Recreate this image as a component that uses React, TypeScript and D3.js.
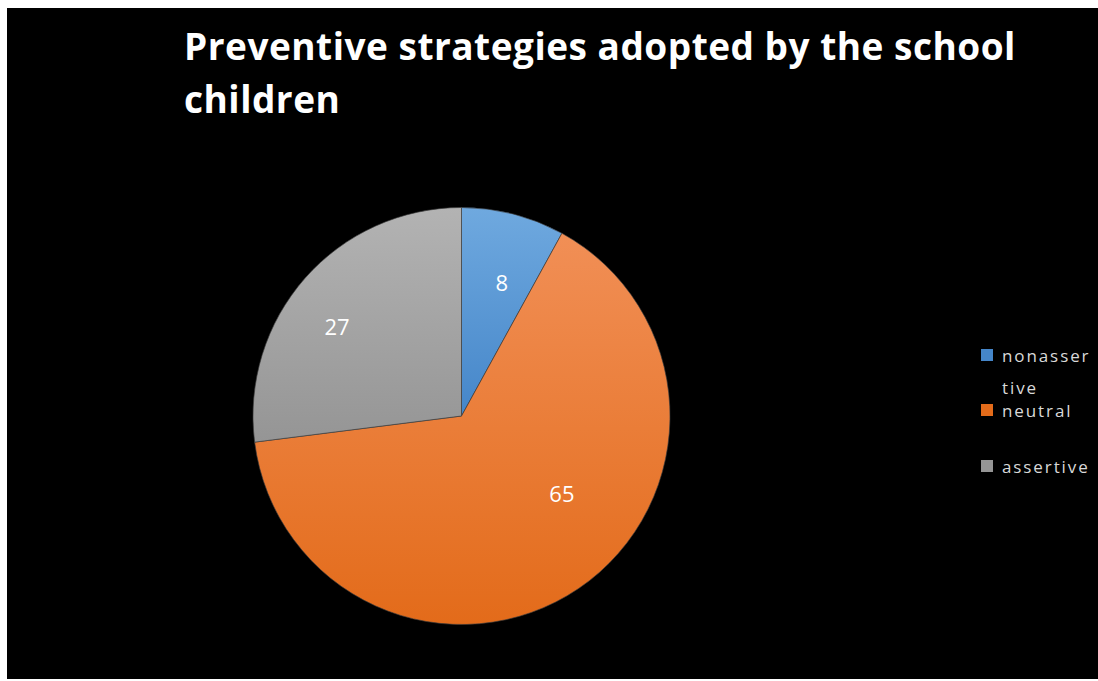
import React, { useEffect, useRef } from "react";
import * as d3 from "d3";

const categories = ["nonassertive", "neutral", "assertive"];
const legendLines = [["nonasser", "tive"], ["neutral"], ["assertive"]];
const values = [8, 65, 27];
const titleLines = ["Preventive strategies adopted by the school", "children"];

const W = 1098;
const H = 681;
const cx = 461.5;
const cy = 416;
const R = 208.5;
const gradStops = [
  ["#6fa9df", "#4586c9"],
  ["#f18f56", "#e36b1a"],
  ["#b3b3b3", "#959595"],
];
// layout: label placement (angle shift in degrees, radius fraction), mimicking Excel best fit
const labelAngleShift = [2.4, -18.3, -5.5];
const labelRadiusFrac = [0.67, 0.607, 0.737];

export default function App() {
  const ref = useRef<SVGSVGElement>(null);
  useEffect(() => {
    const svg = d3.select(ref.current);
    svg.selectAll("*").remove();
    svg.append("rect").attr("x", 0).attr("y", 0).attr("width", W).attr("height", H).attr("fill", "#fff");
    svg.append("rect").attr("x", 7).attr("y", 8).attr("width", W - 7).attr("height", 671).attr("fill", "#000");

    const defs = svg.append("defs");
    gradStops.forEach((s, i) => {
      const g = defs.append("linearGradient").attr("id", "g" + i).attr("x1", 0).attr("y1", 0).attr("x2", 0).attr("y2", 1);
      g.append("stop").attr("offset", "0%").attr("stop-color", s[0]);
      g.append("stop").attr("offset", "100%").attr("stop-color", s[1]);
    });

    // title
    const title = svg.append("text")
      .attr("font-family", "'Open Sans', sans-serif")
      .attr("font-weight", 700)
      .attr("font-size", 37)
      .attr("letter-spacing", 0.5)
      .attr("fill", "#fff");
    titleLines.forEach((t, i) => {
      title.append("tspan").attr("x", 184).attr("y", 60 + i * 53).text(t);
    });

    const pie = d3.pie<number>().sort(null).value((d) => d)(values);
    const arc = d3.arc<d3.PieArcDatum<number>>().innerRadius(0).outerRadius(R);
    const g = svg.append("g").attr("transform", `translate(${cx},${cy})`);
    g.selectAll("path.slice")
      .data(pie)
      .enter()
      .append("path")
      .attr("class", "slice")
      .attr("d", arc as any)
      .attr("fill", (_d, i) => `url(#g${i})`)
      .attr("stroke", "rgba(60,60,60,0.8)")
      .attr("stroke-width", 0.8);

    g.selectAll("text.lbl")
      .data(pie)
      .enter()
      .append("text")
      .attr("class", "lbl")
      .attr("transform", (d, i) => {
        const a = (d.startAngle + d.endAngle) / 2 + (labelAngleShift[i] * Math.PI) / 180;
        const r = R * labelRadiusFrac[i];
        return `translate(${r * Math.sin(a)},${-r * Math.cos(a)})`;
      })
      .attr("text-anchor", "middle")
      .attr("dominant-baseline", "central")
      .attr("font-family", "'Open Sans', sans-serif")
      .attr("font-size", 22)
      .attr("fill", "#fff")
      .text((d) => String(d.data));

    // legend
    const legY = [349, 404, 460];
    const lg = svg.append("g");
    categories.forEach((c, i) => {
      lg.append("rect").attr("x", 981).attr("y", legY[i]).attr("width", 12).attr("height", 12).attr("fill", gradStops[i][1]);
      const t = lg.append("text")
        .attr("font-family", "'Open Sans', sans-serif")
        .attr("font-size", 17)
        .attr("letter-spacing", 1.9)
        .attr("fill", "#d9d9d9");
      legendLines[i].forEach((ln, j) => {
        t.append("tspan").attr("x", 1002).attr("y", legY[i] + 13 + j * 32).text(ln);
      });
    });
  }, []);
  return (
    <div style={{ position: "absolute", left: 0, top: 0 }}>
      <svg ref={ref} width={W} height={H} style={{ display: "block" }} />
    </div>
  );
}
